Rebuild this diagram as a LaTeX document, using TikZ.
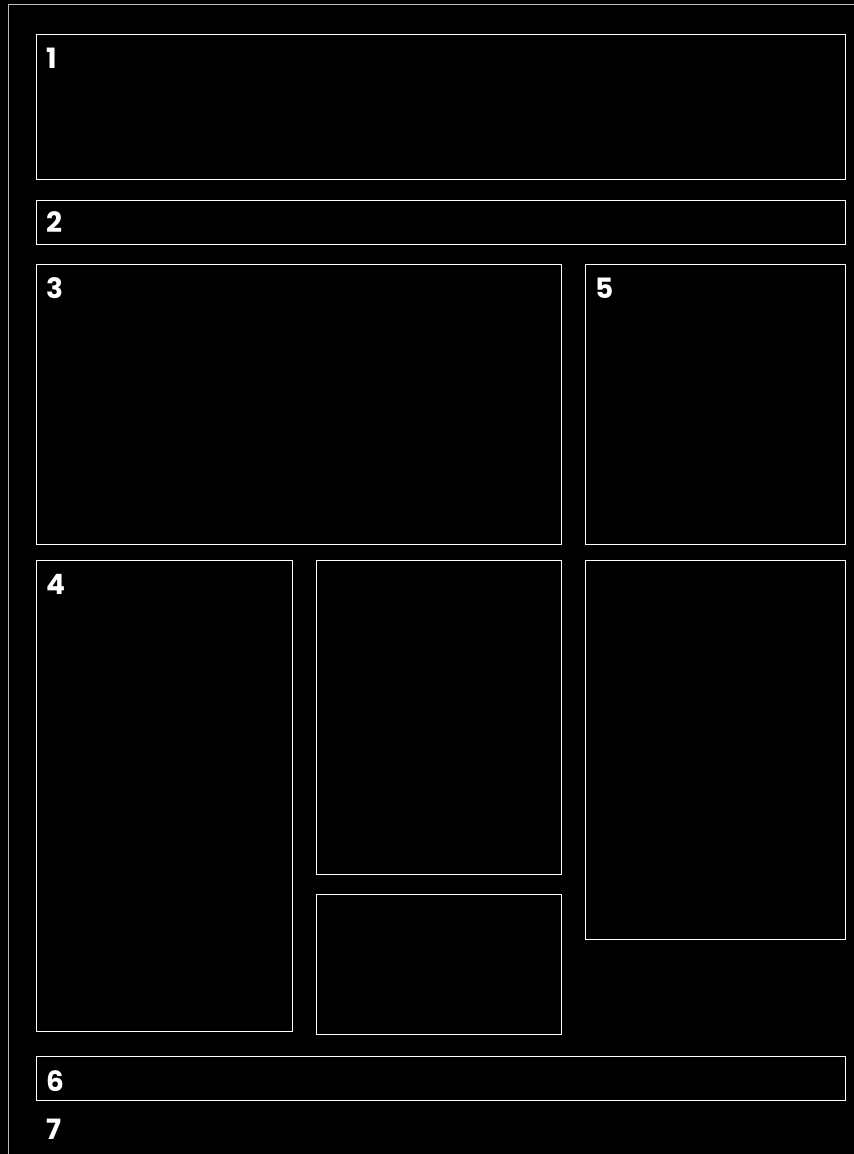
\documentclass[tikz,border=0pt]{standalone}
\usepackage{fontspec}
\setsansfont{Poppins}
\begin{document}
\begin{tikzpicture}[x=1pt,y=-1pt,
  box/.style={draw=white, line width=1.1pt, rectangle, inner sep=0pt, anchor=north west},
  lbl/.style={text=white, font=\sffamily\bfseries\fontsize{28}{28}\selectfont, inner sep=0pt, anchor=base west}]
\fill[black] (0,0) rectangle (854,1154);
\useasboundingbox (0,0) rectangle (854,1154);
\draw[draw=white!75!black, line width=1.2pt] (8.5,1160) -- (8.5,4.5) -- (860,4.5);
\node[box, minimum width=809pt, minimum height=145pt] (b1) at (36,34) {};
\node[box, minimum width=809pt, minimum height=44pt] (b2) at (36,200) {};
\node[box, minimum width=525pt, minimum height=280pt] (b3) at (36,264) {};
\node[box, minimum width=260pt, minimum height=280pt] (b5) at (585,264) {};
\node[box, minimum width=256pt, minimum height=471pt] (b4) at (36,560) {};
\node[box, minimum width=245pt, minimum height=314pt] (bm1) at (316,560) {};
\node[box, minimum width=245pt, minimum height=140pt] (bm2) at (316,894) {};
\node[box, minimum width=260pt, minimum height=379pt] (br) at (585,560) {};
\node[box, minimum width=809pt, minimum height=44pt] (b6) at (36,1056) {};
\node[lbl] (l1) at ([shift={(10pt,-34pt)}]b1.north west) {1};
\node[lbl] (l2) at ([shift={(10pt,-32pt)}]b2.north west) {2};
\node[lbl] (l3) at ([shift={(10pt,-34pt)}]b3.north west) {3};
\node[lbl] (l5) at ([shift={(10pt,-34pt)}]b5.north west) {5};
\node[lbl] (l4) at ([shift={(10pt,-34pt)}]b4.north west) {4};
\node[lbl] (l6) at ([shift={(10pt,-35pt)}]b6.north west) {6};
\node[lbl] (l7) at (46,1139) {7};
\end{tikzpicture}
\end{document}
